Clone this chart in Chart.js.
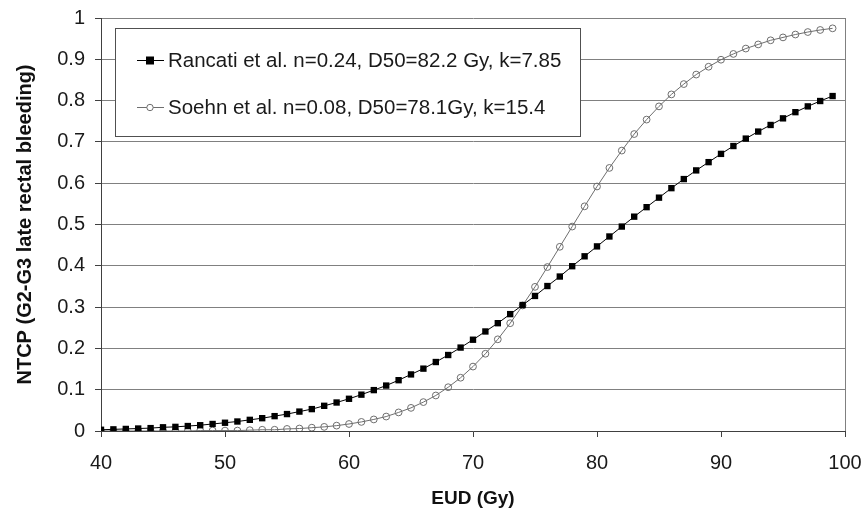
<!DOCTYPE html>
<html>
<head>
<meta charset="utf-8">
<script src="https://cdn.jsdelivr.net/npm/chart.js@4.4.1/dist/chart.umd.min.js"></script>
<style>
  html, body { margin: 0; padding: 0; background: #fff; }
  #wrap { width: 863px; height: 510px; position: relative; }
</style>
</head>
<body>
<div id="wrap"><canvas id="c" width="863" height="510"></canvas></div>
<script>
// EUD values (Gy)
const eud = [40,41,42,43,44,45,46,47,48,49,50,51,52,53,54,55,56,57,58,59,
             60,61,62,63,64,65,66,67,68,69,70,71,72,73,74,75,76,77,78,79,
             80,81,82,83,84,85,86,87,88,89,90,91,92,93,94,95,96,97,98,99];

// Rancati et al. NTCP
const rancati = [0.003,0.004,0.005,0.006,0.007,0.009,0.010,0.012,0.014,0.017,
                 0.020,0.023,0.027,0.031,0.036,0.041,0.047,0.053,0.061,0.069,
                 0.078,0.088,0.099,0.110,0.123,0.137,0.151,0.167,0.184,0.202,
                 0.221,0.241,0.261,0.283,0.305,0.327,0.351,0.374,0.399,0.423,
                 0.447,0.471,0.495,0.519,0.542,0.565,0.588,0.610,0.631,0.651,
                 0.671,0.690,0.708,0.725,0.741,0.757,0.772,0.786,0.799,0.811];

// Soehn et al. NTCP
const soehn = [0.000,0.000,0.000,0.000,0.000,0.000,0.000,0.000,0.001,0.001,
               0.001,0.001,0.002,0.003,0.003,0.005,0.006,0.008,0.010,0.013,
               0.017,0.022,0.028,0.035,0.045,0.056,0.070,0.086,0.106,0.129,
               0.156,0.187,0.222,0.261,0.304,0.349,0.397,0.446,0.495,0.544,
               0.592,0.637,0.679,0.719,0.754,0.786,0.815,0.840,0.863,0.882,
               0.899,0.913,0.926,0.936,0.946,0.953,0.960,0.966,0.971,0.975];

const seriesLabels = ["Rancati et al. n=0.24, D50=82.2 Gy, k=7.85",
                      "Soehn et al. n=0.08, D50=78.1Gy, k=15.4"];
const xTicks = [40,50,60,70,80,90,100];
const yTicks = [0,0.1,0.2,0.3,0.4,0.5,0.6,0.7,0.8,0.9,1];
const xTitle = "EUD (Gy)";
const yTitle = "NTCP (G2-G3 late rectal bleeding)";

const FONT = "'Liberation Sans', Arial, sans-serif";

const toPts = (ys) => eud.map((x, i) => ({x: x, y: ys[i]}));

const legendPlugin = {
  id: 'insideLegend',
  afterDraw(chart) {
    const ctx = chart.ctx;
    const bx = 115.5, by = 28.5, bw = 465, bh = 108;
    ctx.save();
    ctx.fillStyle = '#fff';
    ctx.fillRect(bx, by, bw, bh);
    ctx.strokeStyle = '#505050';
    ctx.lineWidth = 1;
    ctx.strokeRect(bx, by, bw, bh);
    const rows = [60, 107];
    chart.data.datasets.forEach((ds, i) => {
      const y = rows[i];
      ctx.strokeStyle = ds.borderColor;
      ctx.lineWidth = 1;
      ctx.beginPath();
      ctx.moveTo(137, y + 0.5);
      ctx.lineTo(164, y + 0.5);
      ctx.stroke();
      if (ds.pointStyle === 'rect') {
        ctx.fillStyle = ds.pointBackgroundColor;
        ctx.fillRect(146, y - 3.5, 8, 8);
      } else {
        ctx.strokeStyle = ds.pointBorderColor;
        ctx.fillStyle = '#fff';
        ctx.beginPath();
        ctx.arc(150, y + 0.5, 3.2, 0, Math.PI * 2);
        ctx.fill();
        ctx.stroke();
      }
      ctx.fillStyle = '#1a1a1a';
      ctx.font = "20.5px " + FONT;
      ctx.textBaseline = 'middle';
      ctx.textAlign = 'left';
      ctx.fillText(ds.label, 168, y + 1);
    });
    ctx.restore();
  }
};

new Chart(document.getElementById('c'), {
  type: 'line',
  data: {
    datasets: [
      {
        label: seriesLabels[0],
        data: toPts(rancati),
        borderColor: '#000',
        borderWidth: 1,
        pointStyle: 'rect',
        pointRadius: 4.5,
        pointBackgroundColor: '#000',
        pointBorderColor: '#000',
        pointBorderWidth: 0,
        tension: 0,
        fill: false
      },
      {
        label: seriesLabels[1],
        data: toPts(soehn),
        borderColor: '#6e6e6e',
        borderWidth: 1,
        pointStyle: 'circle',
        pointRadius: 3.4,
        pointBackgroundColor: 'rgba(255,255,255,0)',
        pointBorderColor: '#6e6e6e',
        pointBorderWidth: 1,
        tension: 0,
        fill: false
      }
    ]
  },
  options: {
    responsive: false,
    animation: false,
    devicePixelRatio: 1,
    layout: { padding: { left: 13, right: 0, top: 18, bottom: 0 } },
    plugins: {
      legend: { display: false },
      tooltip: { enabled: false }
    },
    scales: {
      x: {
        type: 'linear',
        min: 40, max: 100,
        afterBuildTicks: (s) => { s.ticks = xTicks.map(v => ({value: v})); },
        afterFit: (s) => { s.height = 79; s.paddingRight = 18; s.paddingLeft = 0; },
        border: { display: true, color: '#404040', width: 1 },
        grid: {
          drawOnChartArea: true,
          color: (c) => (c.tick && c.tick.value === 100) ? '#808080' : 'rgba(0,0,0,0)',
          tickColor: '#404040',
          tickLength: 6,
          lineWidth: 1
        },
        ticks: {
          color: '#1a1a1a',
          font: { family: FONT, size: 20 },
          padding: 14,
          maxRotation: 0,
          callback: (v) => String(v)
        },
        title: {
          display: true,
          text: xTitle,
          color: '#111',
          font: { family: FONT, size: 19, weight: 'bold' },
          padding: { top: 2, bottom: 0 }
        }
      },
      y: {
        type: 'linear',
        min: 0, max: 1,
        afterBuildTicks: (s) => { s.ticks = yTicks.map(v => ({value: v})); },
        afterFit: (s) => { s.width = 88; s.paddingTop = 0; s.paddingBottom = 0; },
        border: { display: true, color: '#404040', width: 1 },
        grid: {
          color: '#808080',
          tickColor: '#404040',
          tickLength: 6,
          lineWidth: 1
        },
        ticks: {
          color: '#1a1a1a',
          font: { family: FONT, size: 20 },
          padding: 10,
          callback: (v) => String(Math.round(v * 10) / 10)
        },
        title: {
          display: true,
          text: yTitle,
          color: '#111',
          font: { family: FONT, size: 20, weight: 'bold' },
          padding: { top: 0, bottom: 0 }
        }
      }
    }
  },
  plugins: [legendPlugin]
});
</script>
</body>
</html>
